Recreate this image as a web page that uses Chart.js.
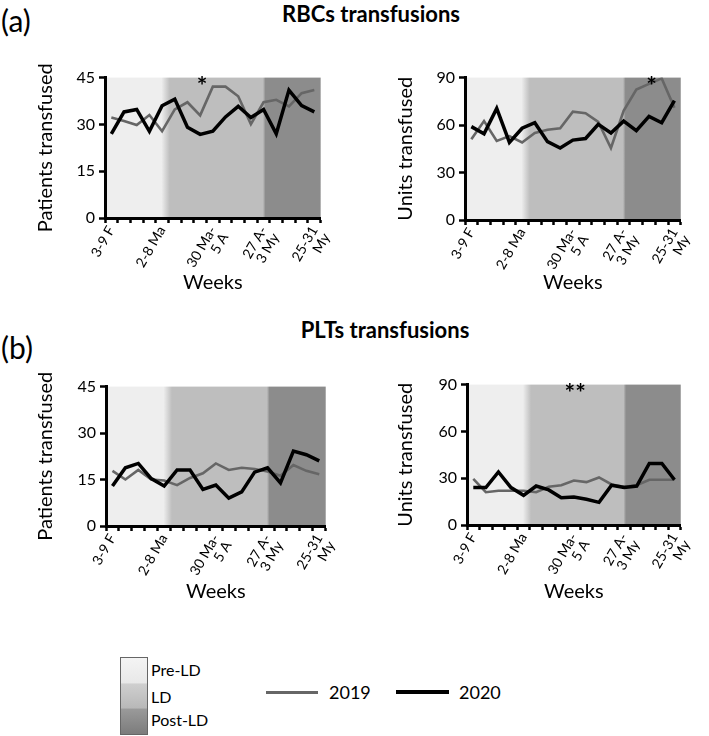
<!DOCTYPE html>
<html>
<head>
<meta charset="utf-8">
<script src="https://cdn.jsdelivr.net/npm/chart.js@4"></script>
<style>
body { margin: 0; background: #fff; font-family: Lato, sans-serif; color: #000; }
#page { position: relative; width: 709px; height: 736px; overflow: hidden; }
#page canvas, #page .t, #page .k { position: absolute; }
.t { white-space: nowrap; line-height: 1; }
.c { transform: translateX(-50%); }
</style>
</head>
<body>
<div id="page">
  <div class="t" style="left:1px;top:5px;font-size:30px">(a)</div>
  <div class="t c" style="left:371px;top:3px;font-size:22px;font-weight:bold">RBCs transfusions</div>
  <div class="t" style="left:1px;top:332px;font-size:30px">(b)</div>
  <div class="t c" style="left:385px;top:319px;font-size:22px;font-weight:bold">PLTs transfusions</div>

  <canvas id="rbcPatients" width="340" height="236" style="left:0;top:64px"></canvas>
  <canvas id="rbcUnits" width="340" height="236" style="left:360px;top:64px"></canvas>
  <canvas id="pltPatients" width="345" height="236" style="left:0;top:373px"></canvas>
  <canvas id="pltUnits" width="340" height="238" style="left:360px;top:371px"></canvas>

  <div class="k" style="left:120px;top:657px;width:26px;height:76px;border:1px solid #666;
       background:linear-gradient(to bottom,#f4f4f4 0,#e8e8e8 33%,#cfcfcf 34%,#b8b8b8 66%,#9a9a9a 67%,#7c7c7c 100%)"></div>
  <div class="t" style="left:151px;top:662px;font-size:16px">Pre-LD</div>
  <div class="t" style="left:151px;top:689px;font-size:16px">LD</div>
  <div class="t" style="left:151px;top:712px;font-size:16px">Post-LD</div>

  <div class="k" style="left:266px;top:691px;width:52px;height:3px;background:#666"></div>
  <div class="t" style="left:329px;top:683px;font-size:18px">2019</div>
  <div class="k" style="left:396px;top:690px;width:53px;height:4px;background:#000"></div>
  <div class="t" style="left:459px;top:683px;font-size:18px">2020</div>
</div>

<script>
// weeks of 2019/2020 (Feb - May)
var weeks = ['3-9 F', '10-16 F', '17-23 F', '24 F-1 Ma', '2-8 Ma', '9-15 Ma', '16-22 Ma', '23-29 Ma',
    '30 Ma-5 A', '6-12 A', '13-19 A', '20-26 A', '27 A-3 My', '4-10 My', '11-17 My', '18-24 My', '25-31 My'];
var weekTicks = ['3-9 F', '', '', '', '2-8 Ma', '', '', '', ['30 Ma-', '5 A'], '', '', '',
    ['27 A-', '3 My'], '', '', '', ['25-31', 'My']];

var rbcPatients2019 = [32.2, 31.1, 29.8, 33.0, 27.8, 34.8, 37.1, 32.9, 42.1, 42.1, 39.0, 30.1, 37.1, 37.9, 35.8, 40.0, 41.0];
var rbcPatients2020 = [27.0, 34.0, 34.8, 27.8, 36.0, 38.1, 29.1, 26.8, 27.8, 32.4, 35.8, 32.2, 34.8, 27.0, 41.0, 36.0, 34.0];
var rbcUnits2019 = [51, 62.5, 50, 53, 49, 55, 57, 58, 68.5, 67.5, 62, 45.5, 69, 82.5, 86, 89.5, 71];
var rbcUnits2020 = [59, 54.5, 70.5, 49, 58, 61.5, 49.5, 45.5, 50.5, 51.5, 60.5, 55, 62.5, 56.5, 65.5, 61.5, 75.5];
var pltPatients2019 = [17.8, 15.0, 18.1, 15.0, 14.7, 13.2, 15.5, 17.0, 20.2, 18.1, 18.8, 18.4, 17.6, 16.2, 19.7, 17.8, 16.7];
var pltPatients2020 = [12.9, 18.8, 20.2, 15.3, 12.9, 18.1, 18.1, 11.8, 13.2, 9.0, 11.0, 17.4, 18.8, 13.9, 24.2, 23.0, 21.0];
var pltUnits2019 = [29.5, 21, 22, 22, 22, 21, 24.5, 25.5, 28.5, 27.5, 30.5, 26, 24.5, 25.5, 29, 29, 29];
var pltUnits2020 = [24, 24, 34, 24, 19, 25, 22.5, 17.5, 18, 16.5, 14.5, 25.5, 24, 25, 39.5, 39.5, 29];

// significance marks (week index)
var rbcPatientsStars = [{ at: 7.15, text: '*' }];
var rbcUnitsStars = [{ at: 14.2, text: '*' }];
var pltUnitsStars = [{ at: 8.1, text: '**' }];

// lockdown phases, in week index units
var phaseNames = ['Pre-LD', 'LD', 'Post-LD'];
var phaseEdges = [[-0.5, 3.95], [4.6, 11.95], [12.15, 16.5]];
var phaseColors = ['#eeeeee', '#bebebe', '#8c8c8c'];

Chart.defaults.font.family = 'Lato, sans-serif';
Chart.defaults.color = '#000';

var shading = {
    id: 'shading',
    beforeDraw: function (chart) {
        var a = chart.chartArea, x = chart.scales.x, c = chart.ctx;
        var g = c.createLinearGradient(a.left, 0, a.right, 0);
        var pos = function (v) {
            return Math.min(1, Math.max(0, (x.getPixelForValue(v) - a.left) / (a.right - a.left)));
        };
        phaseEdges.forEach(function (e, i) {
            g.addColorStop(pos(e[0]), phaseColors[i]);
            g.addColorStop(pos(e[1]), phaseColors[i]);
        });
        c.save();
        c.fillStyle = g;
        c.fillRect(a.left, a.top, a.right - a.left, a.bottom - a.top);
        c.restore();
    }
};

var stars = {
    id: 'stars',
    afterDatasetsDraw: function (chart, args, opts) {
        var c = chart.ctx;
        (opts.marks || []).forEach(function (m) {
            c.save();
            c.font = 'bold 25px Lato';
            c.fillStyle = '#000';
            c.textAlign = 'center';
            c.textBaseline = 'alphabetic';
            c.fillText(m.text, chart.scales.x.getPixelForValue(m.at), chart.chartArea.top + 17);
            c.restore();
        });
    }
};

function makeChart(id, yTitle, yMax, data2019, data2020, marks, box) {
    return new Chart(document.getElementById(id), {
        type: 'line',
        data: {
            labels: weeks,
            datasets: [{
                label: '2020',
                data: data2020,
                borderColor: '#000',
                borderWidth: 3.5,
                pointRadius: 0,
                order: 0
            }, {
                label: '2019',
                data: data2019,
                borderColor: '#666',
                borderWidth: 2.6,
                pointRadius: 0,
                order: 1
            }]
        },
        options: {
            responsive: false,
            animation: false,
            layout: { padding: { top: box.top, right: box.right, left: 0, bottom: 0 } },
            plugins: {
                legend: { display: false },
                tooltip: { enabled: false },
                stars: { marks: marks }
            },
            scales: {
                x: {
                    offset: true,
                    afterFit: function (s) { s.height = box.xh; },
                    grid: { offset: true, drawOnChartArea: false, tickLength: 5, tickWidth: 2.5, tickColor: '#000' },
                    border: { color: '#000', width: 3 },
                    ticks: {
                        autoSkip: false, minRotation: 60, maxRotation: 60, padding: 1,
                        font: { size: 14, lineHeight: 1.0 },
                        callback: function (v, i) { return weekTicks[i]; }
                    },
                    title: { display: true, text: 'Weeks', font: { size: 20, lineHeight: 1.2 }, padding: { top: 0, bottom: 5 } }
                },
                y: {
                    min: 0,
                    max: yMax,
                    afterFit: function (s) { s.width = box.yw; },
                    ticks: { stepSize: yMax / 3, font: { size: 16 }, padding: 4 },
                    grid: { drawOnChartArea: false, tickLength: 6, tickWidth: 2.5, tickColor: '#000' },
                    border: { color: '#000', width: 3 },
                    title: { display: true, text: yTitle, font: { size: 20, lineHeight: 1.2 }, padding: { top: 34, bottom: 0 } }
                }
            }
        },
        plugins: [shading, stars]
    });
}

makeChart('rbcPatients', 'Patients transfused', 45, rbcPatients2019, rbcPatients2020, rbcPatientsStars,
    { top: 10, right: 15, yw: 105, xh: 82 });
makeChart('rbcUnits', 'Units transfused', 90, rbcUnits2019, rbcUnits2020, rbcUnitsStars,
    { top: 10, right: 12, yw: 105, xh: 80 });
makeChart('pltPatients', 'Patients transfused', 45, pltPatients2019, pltPatients2020, [],
    { top: 10, right: 17, yw: 106, xh: 83 });
makeChart('pltUnits', 'Units transfused', 90, pltUnits2019, pltUnits2020, pltUnitsStars,
    { top: 10, right: 10, yw: 107, xh: 84 });
</script>
</body>
</html>
